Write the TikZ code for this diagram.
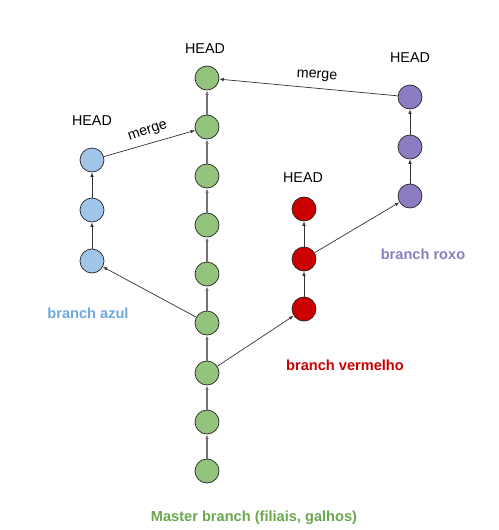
\documentclass[tikz,border=0pt]{standalone}
\usepackage{fontspec}
\setmainfont{Liberation Sans}
\usetikzlibrary{arrows.meta}
\definecolor{gfill}{HTML}{93C47D}
\definecolor{bfill}{HTML}{9FC5E8}
\definecolor{rfill}{HTML}{CC0000}
\definecolor{pfill}{HTML}{8E7CC3}
\definecolor{gtext}{HTML}{6AA84F}
\definecolor{btext}{HTML}{6FA8DC}
\definecolor{rtext}{HTML}{CC0000}
\definecolor{ptext}{HTML}{8E7CC3}
\tikzset{
  commit/.style={circle, draw=black!85, line width=0.7pt, minimum size=24pt, inner sep=0pt},
  mainedge/.style={draw=black!55, line width=1.4pt, -{Latex[length=4.5pt,width=3.5pt]}},
  sideedge/.style={draw=black!80, line width=0.7pt, -{Latex[length=4.5pt,width=3.5pt]}},
  headlbl/.style={font=\fontsize{14.3}{16}\selectfont},
  mergelbl/.style={font=\fontsize{14.3}{16}\selectfont, inner sep=1pt},
  brlbl/.style={font=\bfseries\fontsize{14.6}{16}\selectfont}
}
\begin{document}
\begin{tikzpicture}[x=1pt,y=-1pt]
\useasboundingbox (0,0) rectangle (498,530);
% master
\node[commit, fill=gfill] (g1) at (207,78) {};
\node[commit, fill=gfill] (g2) at (207,127) {};
\node[commit, fill=gfill] (g3) at (207,176) {};
\node[commit, fill=gfill] (g4) at (207,225) {};
\node[commit, fill=gfill] (g5) at (207,274) {};
\node[commit, fill=gfill] (g6) at (207,323) {};
\node[commit, fill=gfill] (g7) at (207,373) {};
\node[commit, fill=gfill] (g8) at (207,422) {};
\node[commit, fill=gfill] (g9) at (207,471) {};
% blue
\node[commit, fill=bfill] (b1) at (92,160) {};
\node[commit, fill=bfill] (b2) at (92,210) {};
\node[commit, fill=bfill] (b3) at (92,261) {};
% red
\node[commit, fill=rfill] (r1) at (304,209) {};
\node[commit, fill=rfill] (r2) at (304,259) {};
\node[commit, fill=rfill] (r3) at (304,309) {};
% purple
\node[commit, fill=pfill] (p1) at (410,97) {};
\node[commit, fill=pfill] (p2) at (410,147) {};
\node[commit, fill=pfill] (p3) at (410,196) {};
% master edges
\draw[mainedge] (g9) -- (g8);
\draw[mainedge] (g8) -- (g7);
\draw[mainedge] (g7) -- (g6);
\draw[mainedge] (g6) -- (g5);
\draw[mainedge] (g5) -- (g4);
\draw[mainedge] (g4) -- (g3);
\draw[mainedge] (g3) -- (g2);
\draw[mainedge] (g2) -- (g1);
% branch edges
\draw[sideedge] (b3) -- (b2);
\draw[sideedge] (b2) -- (b1);
\draw[sideedge] (r3) -- (r2);
\draw[sideedge] (r2) -- (r1);
\draw[sideedge] (p3) -- (p2);
\draw[sideedge] (p2) -- (p1);
\draw[sideedge] (g6) -- (b3);
\draw[sideedge] (g7) -- (r3);
\draw[sideedge] (r2) -- (p3);
\draw[sideedge] (b1) -- (g2);
\draw[sideedge] (p1) -- (g1);
% labels
\node[headlbl] (h1) at (205,49) {HEAD};
\node[headlbl] (h2) at (92,121) {HEAD};
\node[headlbl] (h3) at (303,178) {HEAD};
\node[headlbl] (h4) at (410,58) {HEAD};
\node[mergelbl, rotate=19] (m1) at (148,132) {merge};
\node[mergelbl, rotate=-3] (m2) at (317,76) {merge};
\node[brlbl, text=btext] (la) at (88,313) {branch azul};
\node[brlbl, text=ptext] (lp) at (423,254) {branch roxo};
\node[brlbl, text=rtext] (lr) at (345,365) {branch vermelho};
\node[brlbl, text=gtext] (lg) at (254,518) {Master branch (filiais, galhos)};
\end{tikzpicture}
\end{document}
